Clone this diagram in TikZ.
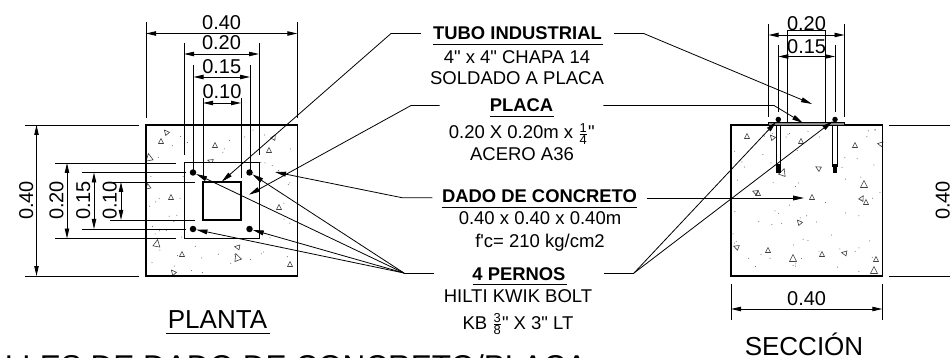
\documentclass[tikz,border=0pt]{standalone}
\usepackage{amsmath}
\usepackage{fontspec}
\setmainfont[Ligatures=TeXOff]{Liberation Sans}
\usetikzlibrary{positioning, arrows.meta}
\newcommand{\fsz}[1]{\fontsize{#1}{#1}\selectfont}
\tikzset{
    dimline/.style={line width=0.9pt, {Triangle[length=10pt,width=4.4pt]}-{Triangle[length=10pt,width=4.4pt]}},
    extline/.style={line width=0.9pt},
    dimtext/.style={font=\fsz{20}, inner sep=0pt, anchor=base},
    leader/.style={line width=0.8pt, -{Triangle[length=11pt,width=4.8pt]}},
    headtext/.style={font=\bfseries\fsz{18.4}, inner ysep=0pt, anchor=base},
    bodytext/.style={font=\fsz{18.5}, inner sep=0pt, anchor=base},
    bolt/.style={circle, fill=black, inner sep=0pt, minimum size=6.5pt},
    concmark/.style={line width=0.6pt, draw=black!75},
}
\begin{document}
\begin{tikzpicture}[x=1pt, y=-1pt]
    \clip (0,0) rectangle (950,358);
    \fill[white] (0,0) rectangle (950,358);

    % concrete squares
    \coordinate (P1) at (146,125);
    \coordinate (P2) at (297.3,276);
    \coordinate (S1) at (731,125);
    \coordinate (S2) at (882.3,276);

    \foreach \tx/\ty/\ts/\tr in {166/132/2.5/40, 161/141/2.5/0, 215/145/2.5/0, 149/157/3.5/10, 210/161/2.5/70, 269/150/2.5/0, 274/137/2.5/-30, 148/186/2.5/10, 171/197/2.5/0, 279/207/2.5/0, 157/243/3.5/-10, 182/254/2.5/0, 237/247/2.5/80, 237/257/3.5/20, 290/264/2.5/0, 173/272/2.5/40,
        747/136/2.5/0, 772/137/2.5/40, 801/141/2.5/0, 855/145/2.5/0, 880/144/2.5/80, 818/168/2.5/60, 783/172/3.5/-20, 864/184/3.5/0, 755/192/2.5/70, 758/193/2.5/0, 812/197/2.5/0, 862/198/2.5/-30, 866/202/2.5/0, 799/222/2.5/40, 736/247/2.5/70, 768/250/2.5/0, 793/258/3.5/0, 822/254/2.5/0, 844/253/2.5/80, 876/259/2.5/0, 874/270/3.5/0}
    {
        \draw[concmark, shift={(\tx,\ty)}, rotate=\tr] (-\ts,\ts) -- (\ts,\ts) -- (0,-\ts) -- cycle;
    }
    \pgfmathsetseed{41}
    \foreach \i in {1,2,...,70}
    {
        \fill[black!65] ({148+147*rnd},{127+147*rnd}) circle (0.5);
        \fill[black!65] ({733+147*rnd},{127+147*rnd}) circle (0.5);
    }
    \draw[line width=1.2pt] (P1) rectangle (P2);
    \draw[line width=1.2pt] (S1) rectangle (S2);

    % plan: plate, tube, bolts
    \draw[fill=white, line width=1pt] (184,163) rectangle (259,238.5);
    \draw[line width=1.7pt] (203,182) rectangle (240.7,220);
    \node[bolt] (b1) at (193,172.5) {};
    \node[bolt] (b2) at (249.5,172.5) {};
    \node[bolt] (b3) at (193,229) {};
    \node[bolt] (b4) at (249.5,229) {};

    % section: tube, plate, bolts
    \draw[line width=1pt] (787.7,122) -- (787.7,31) -- (825.7,31) -- (825.7,122);
    \draw[fill=black!45, line width=0.7pt] (768.5,122.5) rectangle (844.5,125);
    \foreach \bx/\bn in {778.3/s1, 835/s2}
    {
        \draw[line width=0.7pt, fill=white] (\bx-2.2,125) rectangle (\bx+2.2,166);
        \fill (\bx-2.2,164) rectangle (\bx+2.2,173);
        \node[bolt, minimum size=5.5pt] (\bn) at (\bx,119.5) {};
    }

    % horizontal dimensions
    \foreach \xa/\xb/\yd/\ya/\yb/\yt/\lab [count=\n] in {146/297.3/33.5/22/118/29.3/0.40, 184/259/54/43/155.5/50/0.20, 193.5/250/77/65/170/73.3/0.15, 203/241/103/98/178/99/0.10, 768.5/844.5/35/24/117/31/0.20, 778.3/835/56.5/45/112/53.3/0.15, 731/882.3/309/284/320/305/0.40}
    {
        \coordinate (HA\n) at (\xa,\yd);
        \coordinate (HB\n) at (\xb,\yd);
        \draw[extline] (\xa,\ya) -- (\xa,\yb);
        \draw[extline] (\xb,\ya) -- (\xb,\yb);
        \draw[dimline] (HA\n) -- (HB\n);
        \node[dimtext] (hdim\n) at ({(\xa+\xb)/2},\yt) {\lab};
    }

    % vertical dimensions
    \foreach \ya/\yb/\xd/\xa/\xb/\xt/\lab [count=\n] in {125/276/36.5/25/139/33/0.40, 163/238.5/67/55/176/63.3/0.20, 172.5/229/94/82/186/90/0.15, 182/220/121/110/195/116.7/0.10}
    {
        \coordinate (VA\n) at (\xd,\ya);
        \coordinate (VB\n) at (\xd,\yb);
        \draw[extline] (\xa,\ya) -- (\xb,\ya);
        \draw[extline] (\xa,\yb) -- (\xb,\yb);
        \draw[dimline] (VA\n) -- (VB\n);
        \node[dimtext, rotate=90] (vdim\n) at (\xt,200.5) {\lab};
    }
    \draw[extline] (889,125.5) -- (950,125.5);
    \draw[extline] (889,276) -- (950,276);
    \node[dimtext, rotate=90] (vdim5) at (949.5,200.5) {0.40};

    % labels
    \node[headtext, inner xsep=12pt] (tubo) at (517.5,40) {TUBO INDUSTRIAL};
    \node[bodytext] (tubo1) at (517,63.3) {4" x 4" CHAPA 14};
    \node[bodytext] (tubo2) at (517,85) {SOLDADO A PLACA};
    \node[headtext, inner xsep=50pt] (placa) at (521.5,111.7) {PLACA};
    \node[bodytext] (placa1) at (521.7,139) {0.20 X 0.20m x $\frac{\text{1}}{\text{4}}$"};
    \node[bodytext] (placa2) at (522,161) {ACERO A36};
    \node[headtext, inner xsep=9.5pt] (dado) at (539.5,202.7) {DADO DE CONCRETO};
    \node[bodytext] (dado1) at (540,225) {0.40 x 0.40 x 0.40m};
    \node[bodytext] (dado2) at (540,247) {f'c= 210 kg/cm2};
    \node[headtext, inner xsep=38pt] (pernos) at (519,280) {4 PERNOS};
    \node[bodytext] (pernos1) at (518,302) {HILTI KWIK BOLT};
    \node[bodytext] (pernos2) at (518,329) {KB $\frac{\text{3}}{\text{8}}$" X 3" LT};

    \draw[line width=0.9pt] (433,44.2) -- (602.5,44.2);
    \draw[line width=0.9pt] (489.5,116.5) -- (553.5,116.5);
    \draw[line width=0.9pt] (441.5,207) -- (637,207);
    \draw[line width=0.9pt] (472.5,284.5) -- (566.5,284.5);

    % leaders
    \coordinate (TL) at (391,33.5);
    \coordinate (TR) at (643.7,33.5);
    \coordinate (PL) at (411,105.5);
    \coordinate (PR) at (774,105.5);
    \coordinate (DL) at (402,197.7);
    \coordinate (FL) at (404,273);
    \coordinate (FR) at (634,273);
    \coordinate (tubotip) at (221.7,181.7);
    \coordinate (tubotipS) at (812,104);
    \coordinate (placatip) at (249,194.7);
    \coordinate (placatipS) at (803,123);
    \coordinate (dadotip) at (275,172);
    \coordinate (dadotipS) at (804,198);

    \draw[leader] (tubo.west |- TL) -- (TL) -- (tubotip);
    \draw[leader] (tubo.east |- TR) -- (TR) -- (tubotipS);
    \draw[leader] (placa.west |- PL) -- (PL) -- (placatip);
    \draw[leader] (placa.east |- PR) -- (PR) -- (placatipS);
    \draw[leader] (dado.west |- DL) -- (DL) -- (dadotip);
    \draw[leader] (dado.east |- dadotipS) -- (dadotipS);
    \draw[line width=0.8pt] (pernos.west |- FL) -- (FL);
    \draw[line width=0.8pt] (pernos.east |- FR) -- (FR);
    \foreach \i in {b1,b2,b3,b4}
    {
        \draw[leader] (FL) -- (\i);
    }
    \foreach \i in {s1,s2}
    {
        \draw[leader] (FR) -- (\i);
    }

    % titles
    \node[font=\fsz{26}, inner sep=0pt, anchor=base] (planta) at (217.5,328) {PLANTA};
    \draw[line width=1.2pt] (166,333.3) -- (269.5,333.3);
    \node[font=\fsz{26}, inner sep=0pt, anchor=base] (seccion) at (804,355) {SECCIÓN};
    \node[font=\fsz{31.5}, inner sep=0pt, anchor=base west] (titulo) at (4.7,377.5) {LLES DE DADO DE CONCRETO/PLACA};
\end{tikzpicture}
\end{document}
